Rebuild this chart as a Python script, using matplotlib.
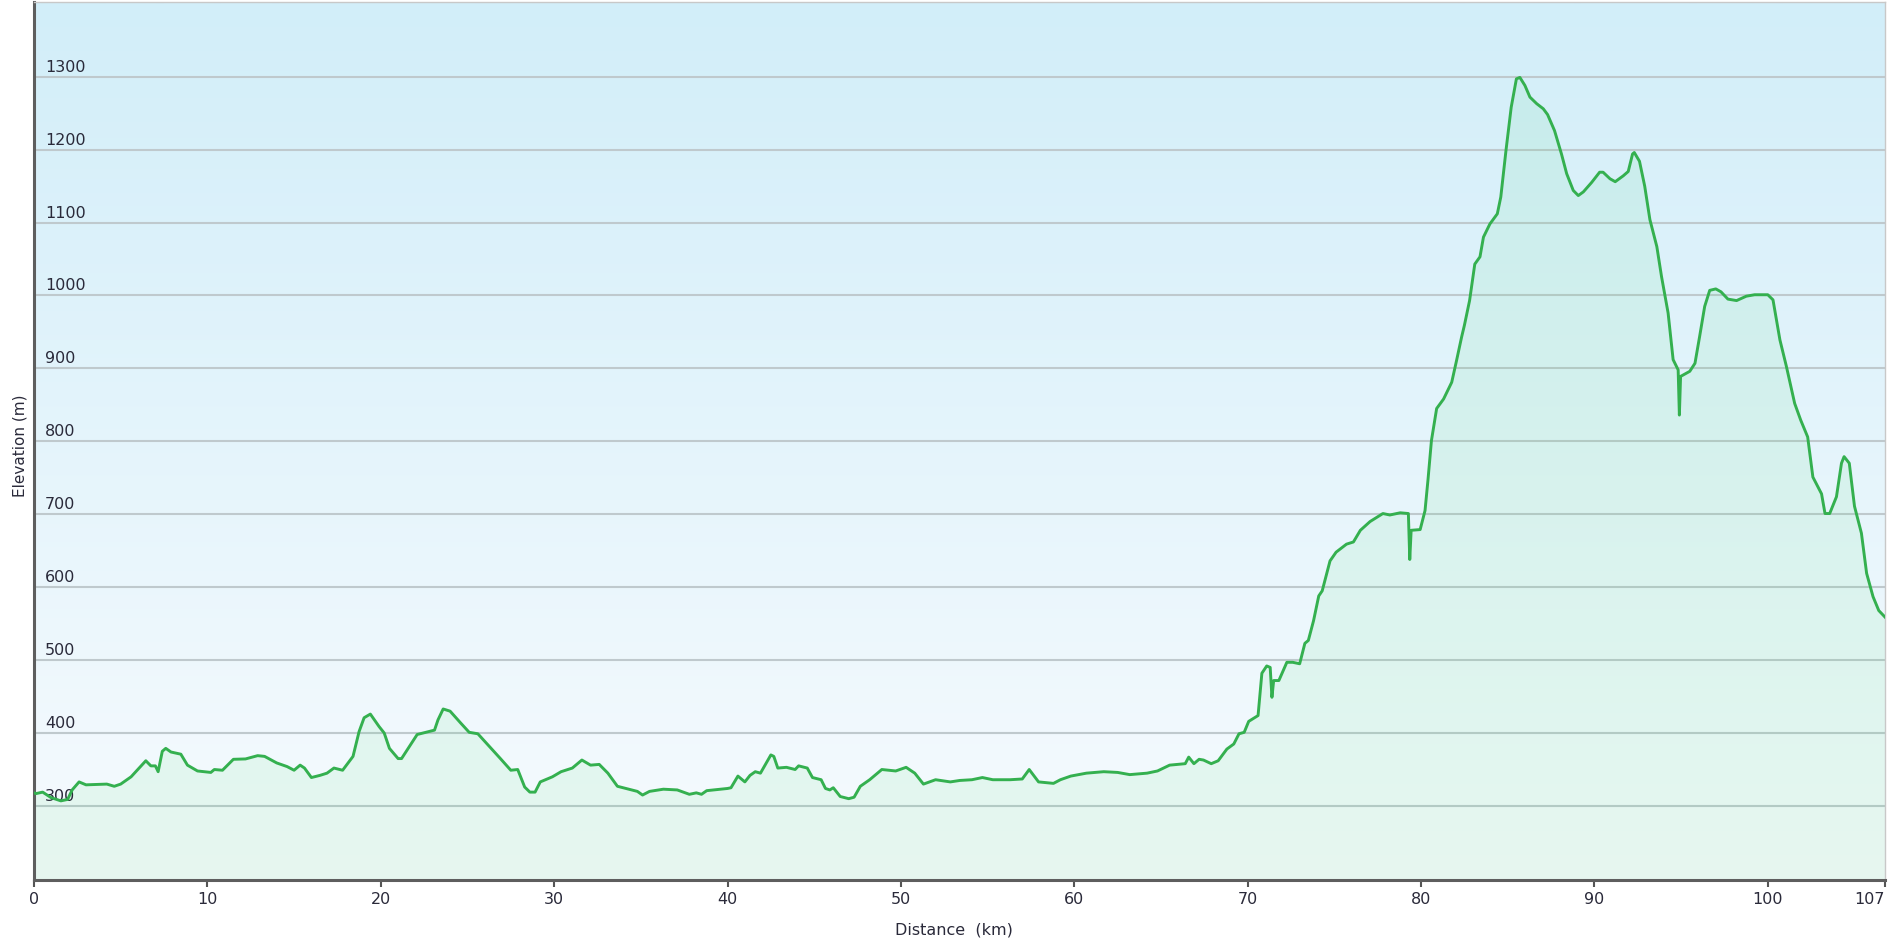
import numpy as np
import matplotlib
matplotlib.use("Agg")
import matplotlib.pyplot as plt
import matplotlib.transforms as mtransforms
from matplotlib.colors import to_rgb

# ---- data (distance km, elevation m) ----
distance_km = [
    0.0, 0.12, 0.5, 0.98, 1.55, 1.94, 2.2, 2.6, 3.0, 4.2, 4.63, 5.0, 5.6, 6.45, 6.74, 7.0, 7.16, 7.4, 7.6, 7.9,
    8.47, 8.85, 9.43, 10.2, 10.4, 10.87, 11.5, 12.2, 12.9, 13.3, 14.0, 14.6, 15.0, 15.35, 15.6, 16.0, 16.5, 16.9,
    17.3, 17.8, 18.4, 18.75, 19.04, 19.4, 19.9, 20.2, 20.5, 21.0, 21.2, 22.1, 23.1, 23.3, 23.6, 24.0, 24.6, 25.1,
    25.6, 26.1, 26.9, 27.5, 27.9, 28.3, 28.6, 28.9, 29.2, 29.9,
    30.4, 31.05, 31.6, 32.1, 32.6, 33.1, 33.65, 34.3, 34.8, 35.1, 35.5, 36.3, 37.1, 37.8, 38.2, 38.5, 38.8, 40.0,
    40.2, 40.6, 41.0, 41.3, 41.6, 41.9, 42.5, 42.67, 42.9, 43.4, 43.9, 44.1, 44.6, 44.9, 45.4, 45.65, 45.9, 46.1,
    46.5, 46.99, 47.3, 47.66, 48.2, 48.9, 49.7, 50.3, 50.8, 51.3, 52.0, 52.85, 53.4, 54.1, 54.7, 55.3, 56.3, 57.0,
    57.4, 57.94, 58.8, 59.2, 59.8,
    60.7, 61.7, 62.5, 63.2, 64.2, 64.8, 65.5, 66.4, 66.6, 66.9, 67.2, 67.45, 67.9, 68.3, 68.8, 69.2, 69.5, 69.8,
    70.06, 70.6, 70.82, 71.1, 71.3, 71.4, 71.5, 71.8, 72.26, 72.6, 73.0, 73.3, 73.5, 73.8, 74.1, 74.3, 74.75, 75.1,
    75.7, 76.1, 76.5, 77.06, 77.8, 78.2, 78.8, 79.27, 79.35, 79.43, 79.95, 80.23, 80.4, 80.6, 80.9, 81.3, 81.77,
    82.05, 82.34, 82.5, 82.8, 83.1, 83.4, 83.6, 83.97, 84.4, 84.6, 84.9, 85.2, 85.5, 85.7, 85.99, 86.28, 86.67,
    87.05, 87.3, 87.7, 88.1, 88.4, 88.78, 89.07, 89.36, 89.84, 90.3, 90.5, 90.9, 91.2, 91.66, 91.95, 92.2, 92.3,
    92.6, 92.9, 93.2, 93.6, 93.87, 94.25, 94.54, 94.83, 94.9, 94.97, 95.5, 95.8, 96.07, 96.36, 96.65, 97.0, 97.3,
    97.7, 98.2, 98.76, 99.24, 99.7, 100.0, 100.3, 100.7, 101.07, 101.55, 101.9, 102.3, 102.6, 103.1, 103.3,
    103.57, 103.96, 104.25, 104.4, 104.7, 105.0, 105.4, 105.7, 106.07, 106.4, 106.76,
]
elevation_m = [
    318, 317, 319, 311.5, 307, 309, 322, 333, 329, 330, 327, 330, 340, 362, 355, 355, 347, 375, 379, 374,
    371, 356, 348, 346, 350, 349, 364, 364.5, 369, 368, 359, 354, 349, 356, 352, 339, 342, 345,
    352, 349, 368, 402, 421, 426, 409, 400, 379, 365, 365, 398, 404, 418, 433, 430, 414, 401,
    399, 386, 365, 349, 350, 326, 319, 319, 333, 340,
    347, 352, 363, 356, 357, 345, 327, 323, 320, 315, 320, 323, 322, 316, 318, 316, 321, 324,
    325, 341, 333, 342, 347, 345, 370, 368, 352, 353, 350, 355, 352, 339, 336, 324, 322, 325,
    313, 310, 312, 327, 336, 350, 348, 353, 345, 330, 336, 333, 335, 336, 339, 336, 336, 337,
    350, 333, 331, 336, 341,
    345, 347, 346, 343, 345, 348, 356, 358, 367, 358, 364, 363, 358, 362, 378, 385, 399, 401,
    416, 424, 482, 492, 490, 449, 472, 472, 497, 497, 495, 523, 527, 554, 588, 595, 636, 648,
    659, 662, 678, 690, 701, 699, 702, 701, 638, 678, 679, 705, 747, 801, 845, 858, 881,
    911, 943, 959, 993, 1043, 1053, 1080, 1098, 1112, 1135, 1199, 1258, 1297, 1299, 1288, 1272, 1263,
    1256, 1248, 1226, 1194, 1167, 1144, 1137, 1142, 1155, 1169, 1169, 1160, 1156, 1164, 1170, 1194, 1196,
    1184, 1150, 1104, 1067, 1026, 976, 912, 898, 836, 889, 896, 907, 944, 985, 1007, 1009, 1005,
    995, 993, 999, 1001, 1001, 1001, 994, 939, 903, 852, 829, 806, 751, 728, 701,
    701, 724, 770, 779, 770, 711, 674, 619, 587, 568, 559,
]
x_ticks = [0, 10, 20, 30, 40, 50, 60, 70, 80, 90, 100, 106.76]
x_tick_labels = ["0", "10", "20", "30", "40", "50", "60", "70", "80", "90", "100", "107"]
y_ticks = [300, 400, 500, 600, 700, 800, 900, 1000, 1100, 1200, 1300]

X_MAX = 106.76
Y_MIN, Y_MAX = 198.5, 1402.4

fig = plt.figure(figsize=(18.9, 9.4), dpi=100)
fig.patch.set_facecolor("white")
ax = fig.add_axes([34 / 1890, 1 - 880 / 940, (1885 - 34) / 1890, (880 - 2) / 940])

# background gradient
top_c = np.array(to_rgb("#d2eef9"))
bot_c = np.array(to_rgb("#f7fbfe"))
t = np.linspace(0, 1, 256)[:, None]
grad = (top_c[None, :] * (1 - t) + bot_c[None, :] * t)[:, None, :]
ax.imshow(grad, extent=[0, X_MAX, Y_MIN, Y_MAX], aspect="auto", origin="upper",
          zorder=0, interpolation="bilinear")

for yv in y_ticks:
    ax.axhline(yv, color="#bfc9cd", lw=1.5, zorder=1)

ax.fill_between(distance_km, elevation_m, Y_MIN, color="#45d86a", alpha=0.09, lw=0, zorder=2)
ax.plot(distance_km, elevation_m, color="#34b04f", lw=2.1, zorder=4, solid_joinstyle="round")

ax.set_xlim(0, X_MAX)
ax.set_ylim(Y_MIN, Y_MAX)

ax.set_xticks(x_ticks)
ax.set_xticklabels(x_tick_labels, fontsize=11.5, color="#2a2a3a")
ax.tick_params(axis="x", direction="out", length=5, width=1.5, color="#555555", pad=4)
last_lbl = ax.get_xticklabels()[-1]
last_lbl.set_horizontalalignment("right")
ax.set_yticks([])

trans = mtransforms.blended_transform_factory(ax.transAxes, ax.transData)
off = mtransforms.ScaledTranslation(0, 5 / 100, fig.dpi_scale_trans)
for yv in y_ticks:
    ax.text(11 / 1851, yv, str(yv), transform=trans + off, ha="left", va="baseline",
            fontsize=11.5, color="#2a2a3a", zorder=3)

for s in ["left", "bottom"]:
    ax.spines[s].set_color("#5e5e5e")
    ax.spines[s].set_linewidth(2.2)
for s in ["top", "right"]:
    ax.spines[s].set_color("#c8c8c8")
    ax.spines[s].set_linewidth(1.0)

fig.text(20 / 1890, 1 - 446 / 940, "Elevation (m)", rotation=90, ha="center", va="center",
         fontsize=11, color="#2a2a3a")
fig.text(954 / 1890, 1 - 930 / 940, "Distance  (km)", ha="center", va="center",
         fontsize=11.5, color="#2a2a3a")

fig.savefig("out.png", dpi=100)
